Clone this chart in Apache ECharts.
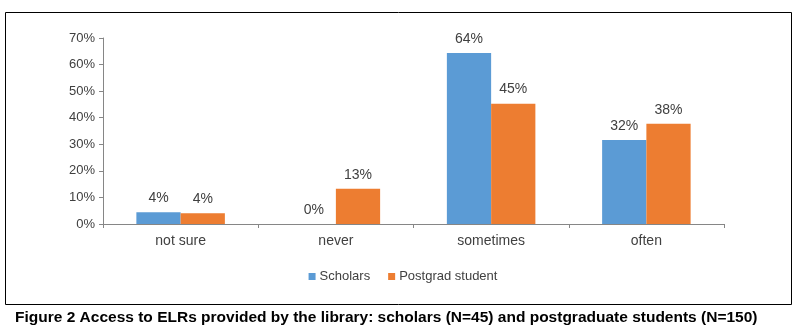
<!DOCTYPE html>
<html>
<head>
<meta charset="utf-8">
<script src="https://cdn.jsdelivr.net/npm/echarts@6/dist/echarts.min.js"></script>
<style>
  html, body { margin: 0; padding: 0; background: #fff; }
  #chart { width: 806px; height: 330px; }
</style>
</head>
<body>
<div id="chart"></div>
<script>
// values (percent)
const categories = ['not sure', 'never', 'sometimes', 'often'];
const scholars = [4.4, 0, 64.4, 31.6];
const postgrad = [4.0, 13.3, 45.3, 37.7];
const seriesNames = ['Scholars', 'Postgrad student'];
const caption = 'Figure 2 Access to ELRs provided by the library: scholars (N=45) and postgraduate students (N=150)';

const font = '"Liberation Sans", Arial, sans-serif';
const myChart = echarts.init(document.getElementById('chart'), null, { renderer: 'canvas' });

const labelOption = {
	show: true,
	position: 'top',
	distance: 7,
	color: '#404040',
	fontFamily: font,
	fontSize: 14,
	formatter: (p) => Math.round(p.value) + '%',
};

const option = {
	backgroundColor: '#fff',
	animation: false,
	textStyle: { fontFamily: font },
	title: {
		text: caption,
		left: 10,
		top: 305,
		textStyle: { fontFamily: font, fontSize: 15.5, fontWeight: 'bold', color: '#000' },
	},
	graphic: [
		{
			type: 'rect',
			shape: { x: 5.5, y: 12.5, width: 786, height: 292 },
			style: { fill: 'none', stroke: '#000', lineWidth: 1 },
			silent: true,
		},
	],
	legend: {
		data: seriesNames,
		left: 'center',
		top: 265,
		itemWidth: 7,
		itemHeight: 7,
		itemGap: 18,
		icon: 'rect',
		textStyle: { fontFamily: font, fontSize: 13, color: '#404040', padding: [0, 0, 0, -1] },
	},
	grid: {
		left: 103,
		right: 82,
		top: 38,
		bottom: 106,
	},
	xAxis: {
		type: 'category',
		data: categories,
		axisLine: { lineStyle: { color: '#868686' } },
		axisTick: { show: true, length: 4, lineStyle: { color: '#868686' } },
		axisLabel: { color: '#404040', fontFamily: font, fontSize: 14, margin: 10 },
	},
	yAxis: {
		type: 'value',
		min: 0,
		max: 70,
		interval: 10,
		splitLine: { show: false },
		axisLine: { show: true, lineStyle: { color: '#868686' } },
		axisTick: { show: true, length: 4, lineStyle: { color: '#868686' } },
		axisLabel: { color: '#404040', fontFamily: font, fontSize: 13, margin: 8, formatter: '{value}%' },
	},
	series: [
		{
			name: seriesNames[0],
			type: 'bar',
			data: scholars,
			barGap: '0%',
			barCategoryGap: '43%',
			itemStyle: { color: '#5B9BD5' },
			label: labelOption,
		},
		{
			name: seriesNames[1],
			type: 'bar',
			data: postgrad,
			itemStyle: { color: '#ED7D31' },
			label: labelOption,
		},
	],
};

myChart.setOption(option);
</script>
</body>
</html>
